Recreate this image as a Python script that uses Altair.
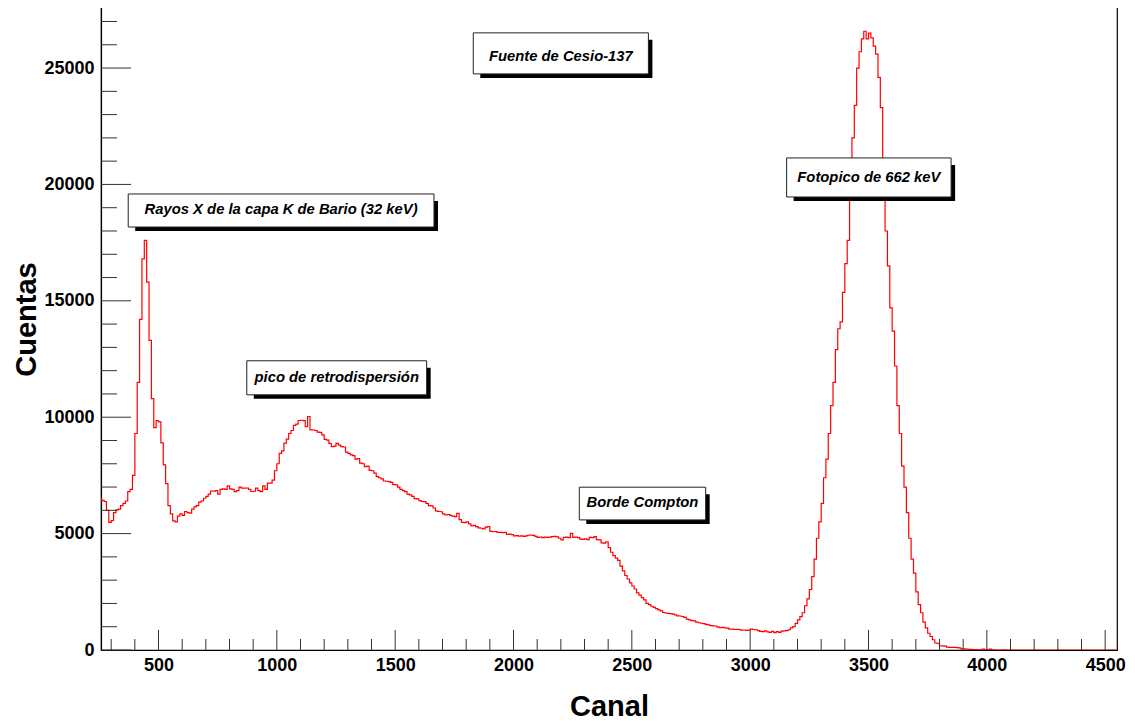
import altair as alt
import pandas as pd

# ---------------- data ----------------
# Spectrum: counts per 10-channel bin; first bin starts at channel 250
bin_start = 250
bin_width = 10

counts_0250 = [
    6500, 6430, 6380, 6000, 5480, 5560, 5900, 6020, 6050, 6200,
    6300, 6400, 6800, 6900, 7500, 9300, 11500, 14200, 16800, 17600,
    15800, 13300, 10800, 9550, 9850, 9800, 8900, 7950, 7150, 6200,
    5850, 5550, 5500, 5750, 5850, 5780, 5950, 5900, 5880, 6050,
    6150, 6200, 6350, 6400, 6520, 6600, 6700, 6830, 6820, 6850,
    6700, 6900, 6920, 6900, 7050, 6920, 6900, 6800, 6850, 7000,
    6950, 6950, 6960, 6900, 6810, 6820, 6950, 6850, 6800, 7050,
    6900, 7170, 7170, 7300, 7700, 8000, 8450, 8550, 8890, 9060,
]
counts_1050 = [
    9300, 9430, 9650, 9700, 9860, 9870, 9850, 9600, 10030, 9460,
    9450, 9430, 9360, 9350, 9240, 9050, 9020, 8880, 8740, 8760,
    8880, 8800, 8740, 8720, 8500, 8450, 8380, 8350, 8200, 8220,
    8030, 8000, 7880, 7900, 7720, 7700, 7600, 7450, 7400, 7350,
    7260, 7250, 7230, 7200, 7100, 7090, 7000, 6900, 6850, 6800,
    6700, 6660, 6600, 6500, 6490, 6420, 6380, 6370, 6300, 6200,
    6190, 6100, 5980, 5950, 5940, 5850, 5800, 5820, 5780, 5750,
    5730, 5870, 5600, 5480, 5470, 5500, 5420, 5330, 5350, 5300,
    5250, 5230, 5200, 5280, 5300, 5100, 5080, 5090, 5050, 5050,
    5040, 5050, 4970, 4980, 4960, 4900, 4910, 4890, 4900, 4880,
]
counts_2050 = [
    4900, 4930, 4940, 4920, 4880, 4840, 4850, 4830, 4850, 4840,
    4850, 4870, 4880, 4860, 4800, 4730, 4840, 4850, 4830, 5010,
    4840, 4850, 4830, 4760, 4750, 4770, 4740, 4840, 4830, 4870,
    4740, 4730, 4600, 4590, 4650, 4400, 4200, 4050, 3950, 3850,
    3600, 3400, 3200, 3050, 2880, 2750, 2620, 2450, 2360, 2250,
    2150, 2000, 1950, 1880, 1830, 1780, 1720, 1680, 1610, 1590,
    1570, 1560, 1540, 1510, 1470, 1460, 1440, 1400, 1330, 1290,
    1260, 1250, 1200, 1170, 1150, 1130, 1100, 1080, 1050, 1040,
    1030, 980, 960, 970, 950, 940, 900, 900, 880, 890,
    880, 850, 860, 840, 850, 900, 880, 870, 830, 800,
]
counts_3050 = [
    790, 820, 780, 760, 800, 750, 790, 760, 810, 820,
    830, 870, 950, 1000, 1146, 1290, 1430, 1600, 1900, 2200,
    2600, 3150, 3900, 4800, 5500, 6300, 7400, 8200, 9300, 10500,
    11500, 12900, 13800, 14100, 15360, 16600, 17600, 20000, 22000, 23400,
    25000, 25700, 26250, 26580, 26250, 26500, 26300, 25940, 25600, 24600,
    23300, 20200, 18000, 16500, 14700, 13700, 12200, 10500, 9300, 7900,
    7000, 5900, 4800, 3900, 3300, 2500, 1950, 1600, 1200, 950,
    720, 580, 440, 300, 280, 172, 175, 165, 120, 115,
    110, 115, 100, 90, 50, 45, 40, 30, 30, 20,
    15, 15, 10, 40, 10, 10, 40, 5, 5, 0,
]
counts_4050 = [
    0, 0, 5, 0, 0, 0, 0, 0, 0, 0,
    0, 0, 0, 0, 0, 0, 0, 0, 0, 0,
    0, 0, 0, 0, 0, 0, 0, 0, 0, 0,
    0, 0, 0, 0, 0, 0, 0, 0, 0, 0,
    0, 0, 0, 0, 0, 0, 0, 0, 0, 0,
    0,
]

# axis ticks
x_major = [500, 1000, 1500, 2000, 2500, 3000, 3500, 4000, 4500]
x_minor = [v for v in range(300, 4600, 100) if v % 500 != 0]
y_major = [0, 5000, 10000, 15000, 20000, 25000]
y_minor = [v for v in range(1000, 28000, 1000) if v % 5000 != 0]

# annotations (data coordinates)
ann_labels = ["Fuente de Cesio-137", "Fotopico de 662 keV",
              "Rayos X de la capa K de Bario (32 keV)",
              "pico de retrodispersión", "Borde Compton"]
ann_x1 = [1830, 3154, 372, 873, 2278]
ann_x2 = [2570, 3849, 1664, 1633, 2812]
ann_ytop = [26511, 21138, 19590, 12424, 6994]
ann_ybot = [24749, 19461, 18171, 10962, 5589]
ann_ytext = [25320, 20089, 18721, 11521, 6126]

# ---------------- chart ----------------
FONT = "Liberation Sans"
W, H = 1016, 649

counts = counts_0250 + counts_1050 + counts_2050 + counts_3050 + counts_4050
edges = [bin_start + bin_width * i for i in range(len(counts) + 1)]
hist = pd.DataFrame({"canal": edges, "cuentas": counts + [counts[-1]]})

xs = alt.Scale(domain=[257, 4550], nice=False, zero=False)
ys = alt.Scale(domain=[0, 27880], nice=False, zero=False)

xaxis = alt.Axis(values=x_major, format="d", ticks=False, tickSize=0, grid=False,
                 domainColor="black", domainWidth=1.2,
                 labelFont=FONT, labelFontWeight="bold", labelFontSize=18,
                 labelColor="black", labelPadding=6, labelFlush=False,
                 labelOverlap=False,
                 title="Canal", titleFont=FONT, titleFontWeight="bold",
                 titleFontSize=29, titleColor="black", titleX=W / 2, titleY=65,
                 titleAlign="center", titleBaseline="alphabetic")
yaxis = alt.Axis(values=y_major, format="d", ticks=False, tickSize=0, grid=False,
                 domainColor="black", domainWidth=1.2,
                 labelFont=FONT, labelFontWeight="bold", labelFontSize=18,
                 labelColor="black", labelPadding=7, labelOverlap=False,
                 title="Cuentas", titleFont=FONT, titleFontWeight="bold",
                 titleFontSize=29, titleColor="black", titleAngle=270,
                 titleX=-66, titleY=318, titleAlign="center",
                 titleBaseline="alphabetic")


def X(field="canal"):
    return alt.X(f"{field}:Q", scale=xs, axis=xaxis)


def Y(field="cuentas"):
    return alt.Y(f"{field}:Q", scale=ys, axis=yaxis)


line = alt.Chart(hist).mark_line(
    interpolate="step-after", color="#ff0000", strokeWidth=1.2, clip=True
).encode(x=X(), y=Y())

tick_col = "#333333"
ymaj = alt.Chart(pd.DataFrame({"cuentas": y_major})).mark_rule(
    color=tick_col, strokeWidth=1).encode(y=Y(), x=alt.value(0), x2=alt.value(30))
ymin = alt.Chart(pd.DataFrame({"cuentas": y_minor})).mark_rule(
    color=tick_col, strokeWidth=1).encode(y=Y(), x=alt.value(0), x2=alt.value(16))
xmaj = alt.Chart(pd.DataFrame({"canal": x_major})).mark_rule(
    color=tick_col, strokeWidth=1).encode(x=X(), y=alt.value(H), y2=alt.value(H - 20))
xmin = alt.Chart(pd.DataFrame({"canal": x_minor})).mark_rule(
    color=tick_col, strokeWidth=1).encode(x=X(), y=alt.value(H), y2=alt.value(H - 11))

ann = pd.DataFrame({
    "label": ann_labels,
    "canal": ann_x1, "canal2": ann_x2,
    "cuentas": ann_ytop, "cuentas2": ann_ybot,
})
ann["cx"] = [(a + b) / 2 for a, b in zip(ann_x1, ann_x2)]
ann["ty"] = ann_ytext

shadow = alt.Chart(ann).mark_rect(
    color="black", xOffset=7, x2Offset=4, yOffset=7, y2Offset=4
).encode(x=X(), x2="canal2:Q", y=Y(), y2="cuentas2:Q")
box = alt.Chart(ann).mark_rect(
    fill="white", stroke="#222222", strokeWidth=1
).encode(x=X(), x2="canal2:Q", y=Y(), y2="cuentas2:Q")
text = alt.Chart(ann).mark_text(
    font=FONT, fontStyle="italic", fontWeight="bold", fontSize=14.8,
    color="black", align="center", baseline="alphabetic"
).encode(x=alt.X("cx:Q", scale=xs, axis=xaxis),
         y=alt.Y("ty:Q", scale=ys, axis=yaxis), text="label:N")

chart = alt.layer(line, ymin, ymaj, xmin, xmaj, shadow, box, text).properties(
    width=W, height=H,
    autosize=alt.AutoSizeParams(type="none"),
    padding={"left": 93, "top": -7, "right": 10, "bottom": 71},
    background="white",
).configure_view(stroke="black", strokeWidth=1.2)

chart.save("out.html", embed_options={"renderer": "svg", "actions": False})
